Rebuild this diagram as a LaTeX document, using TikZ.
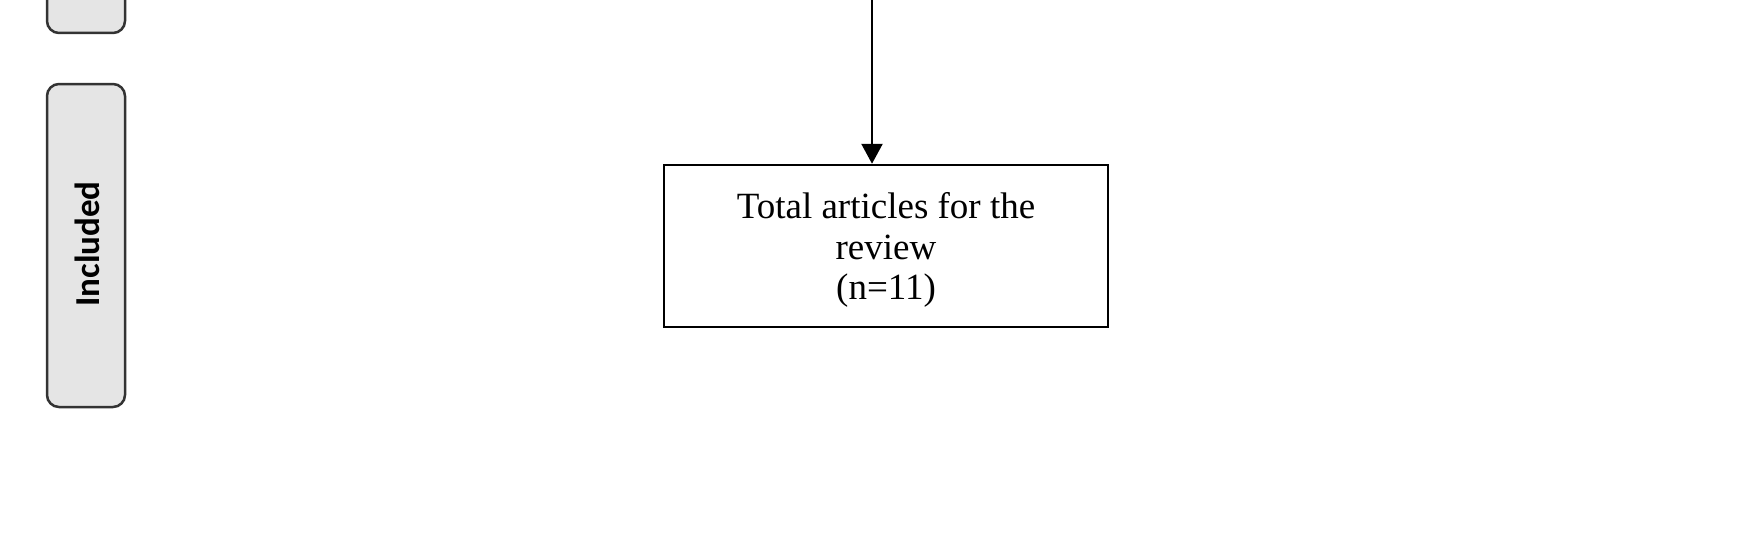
\documentclass[tikz,border=0pt]{standalone}
\usepackage{fontspec}
\setmainfont{Liberation Serif}
\newfontfamily\lblfont{Carlito}
\usetikzlibrary{arrows.meta}
\tikzset{
  phase/.style={draw=black!80, line width=2.5pt, fill=black!10, rounded corners=12pt},
  mainbox/.style={draw=black, line width=2.5pt, fill=white, minimum width=444pt, minimum height=162pt, inner sep=0pt},
  boxtext/.style={align=center, inner sep=0pt, font=\fontsize{37}{40.5}\selectfont},
  conn/.style={line width=2.5pt, -{Triangle[length=20pt,width=21pt]}}
}
\begin{document}
\begin{tikzpicture}[x=1pt,y=-1pt]
\useasboundingbox (0,0) rectangle (1763,551);
\clip (0,0) rectangle (1763,551);
\draw[phase] (47,-80) rectangle (125,33);
\draw[phase] (47,84) rectangle (125,407);
\node[rotate=90, font=\lblfont\bfseries\fontsize{35}{40}\selectfont] (inc) at (87,244) {Included};
\node[mainbox] (total) at (886,246) {};
\node[boxtext] (totaltext) at (886,250) {Total articles for the\\review\\(n=11)};
\coordinate (top) at (872,0);
\draw[conn] (top) -- (top |- total.north);
\end{tikzpicture}
\end{document}
